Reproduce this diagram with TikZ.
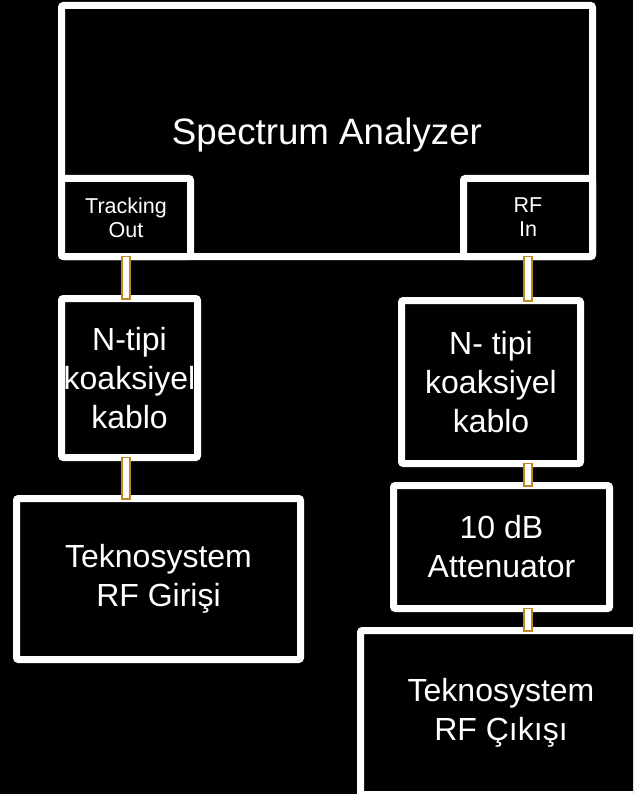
\documentclass[tikz,border=0pt]{standalone}
\usepackage{fontspec}
\setmainfont{Liberation Sans}
\definecolor{plugclr}{RGB}{191,137,34}
\tikzset{
 blok/.style={draw=white,line width=7pt,rounded corners=2pt,fill=black,text=white,align=center,
   outer sep=0pt,inner sep=0pt,font=\fontsize{32}{39}\selectfont},
 kucuk/.style={blok,font=\fontsize{21.5}{24}\selectfont},
 plug/.style={draw=plugclr,line width=1.8pt,double=white,double distance=6.4pt,line cap=rect,
   shorten <=4pt,shorten >=4pt}
}
\begin{document}
\begin{tikzpicture}[x=1pt,y=-1pt]
 \fill[black](0,0) rectangle (633,794);
 \useasboundingbox(0,0) rectangle (633,794);
 \clip(0,0) rectangle (633,794);
 % analizor ve cikislari
 \node[blok,minimum width=531pt,minimum height=251pt,text depth=0pt,font=\fontsize{36.7}{40}\selectfont](sa) at (327,131){Spectrum Analyzer};
 \node[kucuk,minimum width=129pt,minimum height=78pt](trk) at (126,217.5){Tracking\\Out};
 \node[kucuk,minimum width=129pt,minimum height=78pt](rfin) at (528,217.5){RF\\In};
 % kablolar
 \node[blok,minimum width=136pt,minimum height=159pt](ntl) at (129.5,378){N-tipi\\koaksiyel\\kablo};
 \node[blok,minimum width=179pt,minimum height=163pt](ntr) at (491,382){N- tipi\\koaksiyel\\kablo};
 \node[blok,minimum width=284pt,minimum height=161pt](tkl) at (158.5,579){Teknosystem\\RF Girişi};
 \node[blok,minimum width=216pt,minimum height=123pt](att) at (501.5,547){10 dB\\Attenuator};
 \node[blok,minimum width=281pt,minimum height=164pt](tkr) at (501,712.5){Teknosystem\\RF Çıkışı};
 % konektorler
 \draw[plug](trk.south)--(trk.south|-ntl.north);
 \draw[plug](trk.south|-ntl.south)--(trk.south|-tkl.north);
 \draw[plug](rfin.south)--(rfin.south|-ntr.north);
 \draw[plug](rfin.south|-ntr.south)--(rfin.south|-att.north);
 \draw[plug](rfin.south|-att.south)--(rfin.south|-tkr.north);
\end{tikzpicture}
\end{document}
